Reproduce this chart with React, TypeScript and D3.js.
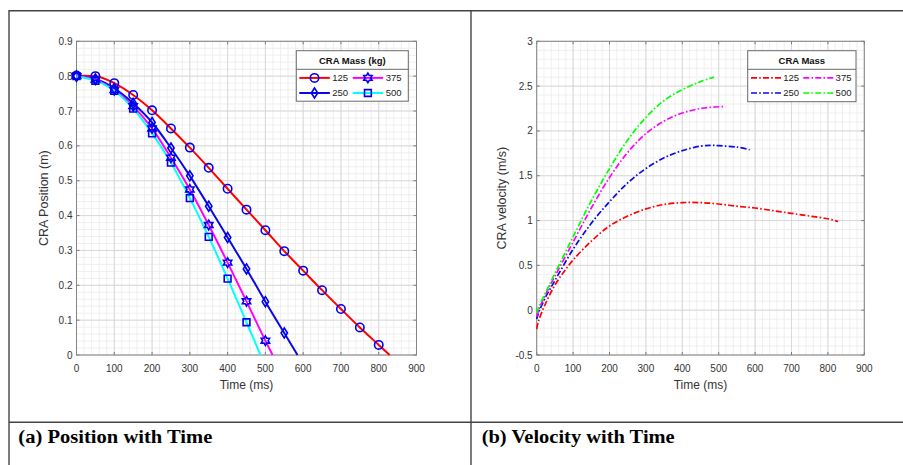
import React from "react";
import * as d3 from "d3";

// ---------- data ----------
const massLabels = ["125", "250", "375", "500"];

const posT125 = [0, 50, 100, 150, 200, 250, 300, 350, 400, 450, 500, 550, 600, 650, 700, 750, 800, 829];
const posY125 = [0.802, 0.8, 0.78, 0.746, 0.702, 0.65, 0.595, 0.537, 0.477, 0.417, 0.358, 0.298, 0.242, 0.186, 0.132, 0.079, 0.029, 0];
const posT250 = [0, 50, 100, 150, 200, 250, 300, 350, 400, 450, 500, 550, 585];
const posY250 = [0.8, 0.792, 0.765, 0.722, 0.667, 0.594, 0.514, 0.427, 0.337, 0.247, 0.153, 0.063, 0];
const posT375 = [0, 50, 100, 150, 200, 250, 300, 350, 400, 450, 500, 519];
const posY375 = [0.8, 0.79, 0.76, 0.714, 0.65, 0.566, 0.475, 0.373, 0.265, 0.154, 0.041, 0];
const posT500 = [0, 50, 100, 150, 200, 250, 300, 350, 400, 450, 487];
const posY500 = [0.8, 0.787, 0.758, 0.707, 0.636, 0.552, 0.45, 0.339, 0.219, 0.094, 0];

const velT125 = [0, 5, 25, 50, 75, 100, 150, 200, 250, 300, 350, 400, 450, 500, 550, 600, 650, 700, 750, 800, 828];
const velV125 = [-0.21, -0.12, 0.08, 0.28, 0.43, 0.56, 0.77, 0.94, 1.05, 1.13, 1.18, 1.2, 1.2, 1.185, 1.16, 1.14, 1.11, 1.08, 1.05, 1.02, 0.99];
const velT250 = [0, 5, 25, 50, 100, 150, 200, 250, 300, 350, 400, 450, 480, 500, 550, 585];
const velV250 = [-0.1, -0.03, 0.15, 0.33, 0.68, 0.97, 1.21, 1.42, 1.58, 1.7, 1.78, 1.83, 1.84, 1.835, 1.82, 1.79];
const velT375 = [0, 5, 25, 50, 100, 150, 200, 250, 300, 350, 400, 450, 500, 519];
const velV375 = [-0.07, 0.0, 0.18, 0.38, 0.76, 1.14, 1.48, 1.76, 1.97, 2.11, 2.2, 2.25, 2.27, 2.27];
const velT500 = [0, 5, 25, 50, 100, 150, 200, 250, 300, 350, 400, 450, 487];
const velV500 = [-0.03, 0.03, 0.2, 0.41, 0.82, 1.22, 1.58, 1.9, 2.15, 2.34, 2.46, 2.55, 2.6];

const xTicks = [0, 100, 200, 300, 400, 500, 600, 700, 800, 900];
const posYTicks = [0, 0.1, 0.2, 0.3, 0.4, 0.5, 0.6, 0.7, 0.8, 0.9];
const velYTicks = [-0.5, 0, 0.5, 1, 1.5, 2, 2.5, 3];

const posColors = ["#ff0000", "#0a0ae6", "#ff00ff", "#00ffff"];
const velColors = ["#ff0000", "#0a0ae6", "#ff00ff", "#00ff00"];
const markerTypes = ["circle", "diamond", "hexagram", "square"];

const MARKER = "#0000ee";
const FONT = "'Liberation Sans', Arial, Helvetica, sans-serif";

function markerPath(type: string): string {
  if (type === "circle") {
    const r = 4.2;
    return `M${-r},0A${r},${r} 0 1,0 ${r},0A${r},${r} 0 1,0 ${-r},0Z`;
  }
  if (type === "diamond") {
    return `M0,-5L3.2,0L0,5L-3.2,0Z`;
  }
  if (type === "square") {
    const h = 3.4;
    return `M${-h},${-h}H${h}V${h}H${-h}Z`;
  }
  const R = 4.8, r = R / Math.sqrt(3);
  const pts: string[] = [];
  for (let i = 0; i < 12; i++) {
    const a = (-90 + i * 30) * Math.PI / 180;
    const rr = i % 2 === 0 ? R : r;
    pts.push(`${(rr * Math.cos(a)).toFixed(2)},${(rr * Math.sin(a)).toFixed(2)}`);
  }
  return "M" + pts.join("L") + "Z";
}

function Axes({ x, y, xTickVals, yTickVals, xMinorStep, yMinorStep, yFmt, yLabel }: any) {
  const [x0, x1] = x.range();
  const [y0, y1] = y.range();
  const [dx0, dx1] = x.domain();
  const [dy0, dy1] = y.domain();
  const minorX = d3.range(dx0, dx1 + 1e-9, xMinorStep);
  const minorY = d3.range(dy0, dy1 + 1e-9, yMinorStep);
  return (
    <g>
      <rect x={x0} y={y1} width={x1 - x0} height={y0 - y1} fill="#ffffff" />
      {minorX.map((v: number, i: number) => (
        <line key={"mx" + i} x1={x(v)} x2={x(v)} y1={y1} y2={y0} stroke="#ebebeb" strokeWidth={0.8} />
      ))}
      {minorY.map((v: number, i: number) => (
        <line key={"my" + i} x1={x0} x2={x1} y1={y(v)} y2={y(v)} stroke="#ebebeb" strokeWidth={0.8} />
      ))}
      {xTickVals.map((v: number, i: number) => (
        <line key={"gx" + i} x1={x(v)} x2={x(v)} y1={y1} y2={y0} stroke="#d6d6d6" strokeWidth={0.9} />
      ))}
      {yTickVals.map((v: number, i: number) => (
        <line key={"gy" + i} x1={x0} x2={x1} y1={y(v)} y2={y(v)} stroke="#d6d6d6" strokeWidth={0.9} />
      ))}
      {xTickVals.map((v: number, i: number) => (
        <g key={"tx" + i}>
          <line x1={x(v)} x2={x(v)} y1={y0} y2={y0 - 3} stroke="#7a7a7a" />
          <line x1={x(v)} x2={x(v)} y1={y1} y2={y1 + 3} stroke="#7a7a7a" />
          <text x={x(v)} y={y0 + 17} textAnchor="middle" fontSize={10} fill="#333" fontFamily={FONT}>{v}</text>
        </g>
      ))}
      {yTickVals.map((v: number, i: number) => (
        <g key={"ty" + i}>
          <line x1={x0} x2={x0 + 3} y1={y(v)} y2={y(v)} stroke="#7a7a7a" />
          <line x1={x1} x2={x1 - 3} y1={y(v)} y2={y(v)} stroke="#7a7a7a" />
          <text x={x0 - 4} y={y(v) + 3.5} textAnchor="end" fontSize={10} fill="#333" fontFamily={FONT}>{yFmt(v)}</text>
        </g>
      ))}
      <rect x={x0} y={y1} width={x1 - x0} height={y0 - y1} fill="none" stroke="#858585" strokeWidth={1} />
      <text x={(x0 + x1) / 2} y={y0 + 34} textAnchor="middle" fontSize={12} fill="#333" fontFamily={FONT}>Time (ms)</text>
      <text transform={`translate(${yLabel.x},${(y0 + y1) / 2}) rotate(-90)`} textAnchor="middle" fontSize={12.5} fill="#333" fontFamily={FONT}>{yLabel.text}</text>
    </g>
  );
}

export default function App() {
  const W = 903, H = 465;

  const xL = d3.scaleLinear().domain([0, 900]).range([76.5, 416.5]);
  const yL = d3.scaleLinear().domain([0, 0.9]).range([355, 41.3]);
  const xR = d3.scaleLinear().domain([0, 900]).range([536.7, 864.3]);
  const yR = d3.scaleLinear().domain([-0.5, 3]).range([355, 41.3]);

  const posSeries = [
    { t: posT125, v: posY125 },
    { t: posT250, v: posY250 },
    { t: posT375, v: posY375 },
    { t: posT500, v: posY500 },
  ];
  const velSeries = [
    { t: velT125, v: velV125 },
    { t: velT250, v: velV250 },
    { t: velT375, v: velV375 },
    { t: velT500, v: velV500 },
  ];

  const lineL = d3.line<[number, number]>().x(d => xL(d[0])).y(d => yL(d[1])).curve(d3.curveMonotoneX);
  const lineR = d3.line<[number, number]>().x(d => xR(d[0])).y(d => yR(d[1])).curve(d3.curveCatmullRom.alpha(0.5));

  const dash = "6,2.2,1.6,2.2";

  const legL = { x: 296.3, y: 50.7, w: 112, h: 50.5, div: 69.3 };
  const legR = { x: 747.7, y: 50.7, w: 108.3, h: 51, div: 69.3 };
  const rowsY = [77.9, 93];

  return (
    <svg width={W} height={H} style={{ position: "absolute", left: 0, top: 0, background: "#fff" }}>
      <rect x={0} y={0} width={W} height={H} fill="#fff" />
      <line x1={9} x2={903} y1={10.7} y2={10.7} stroke="#444" strokeWidth={1.4} />
      <line x1={9} x2={9} y1={10} y2={465} stroke="#444" strokeWidth={1.4} />
      <line x1={471} x2={471} y1={10} y2={465} stroke="#444" strokeWidth={1.4} />
      <line x1={9} x2={903} y1={422.3} y2={422.3} stroke="#444" strokeWidth={1.4} />
      <text x={18.3} y={442.7} fontFamily="'Liberation Serif', 'Times New Roman', serif" fontWeight="bold" fontSize={18.5} textLength={194} lengthAdjust="spacingAndGlyphs" fill="#000">(a) Position with Time</text>
      <text x={481.7} y={442.7} fontFamily="'Liberation Serif', 'Times New Roman', serif" fontWeight="bold" fontSize={18.5} textLength={193} lengthAdjust="spacingAndGlyphs" fill="#000">(b) Velocity with Time</text>

      <Axes x={xL} y={yL} xTickVals={xTicks} yTickVals={posYTicks} xMinorStep={20} yMinorStep={0.02}
        yFmt={(v: number) => (v === 0 ? "0" : d3.format(".1f")(v))} yLabel={{ x: 48, text: "CRA Position (m)" }} />
      <g>
        {posSeries.map((s, i) => (
          <path key={"pl" + i} d={lineL(s.t.map((t, j) => [t, s.v[j]] as [number, number])) || ""} fill="none" stroke={posColors[i]} strokeWidth={2} />
        ))}
        {posSeries.map((s, i) =>
          s.t.map((t, j) =>
            t % 50 === 0 ? (
              <path key={"pm" + i + "-" + j} transform={`translate(${xL(t)},${yL(s.v[j])})`} d={markerPath(markerTypes[i])} fill="none" stroke={MARKER} strokeWidth={1.6} />
            ) : null
          )
        )}
      </g>
      <g>
        <rect x={legL.x} y={legL.y} width={legL.w} height={legL.h} fill="#fff" stroke="#6a6a6a" strokeWidth={1} />
        <line x1={legL.x} x2={legL.x + legL.w} y1={legL.div} y2={legL.div} stroke="#6a6a6a" strokeWidth={1} />
        <text x={legL.x + legL.w / 2} y={63.6} textAnchor="middle" fontFamily={FONT} fontWeight="bold" fontSize={9.5} fill="#111">CRA Mass (kg)</text>
        {massLabels.map((lab, i) => {
          const col = i === 0 || i === 1 ? 0 : 1;
          const row = i === 0 || i === 2 ? 0 : 1;
          const lx = col === 0 ? 299.3 : 352.7;
          const ly = rowsY[row];
          return (
            <g key={"ll" + i}>
              <line x1={lx} x2={lx + 30.5} y1={ly} y2={ly} stroke={posColors[i]} strokeWidth={2} />
              <path transform={`translate(${lx + 15.2},${ly})`} d={markerPath(markerTypes[i])} fill="none" stroke={MARKER} strokeWidth={1.6} />
              <text x={lx + 33} y={ly + 3.4} fontFamily={FONT} fontSize={9.5} fill="#222">{lab}</text>
            </g>
          );
        })}
      </g>

      <Axes x={xR} y={yR} xTickVals={xTicks} yTickVals={velYTicks} xMinorStep={20} yMinorStep={0.1}
        yFmt={(v: number) => String(v)} yLabel={{ x: 506, text: "CRA velocity (m/s)" }} />
      <g>
        {velSeries.map((s, i) => (
          <path key={"vl" + i} d={lineR(s.t.map((t, j) => [t, s.v[j]] as [number, number])) || ""} fill="none" stroke={velColors[i]} strokeWidth={1.7} strokeDasharray={dash} />
        ))}
      </g>
      <g>
        <rect x={legR.x} y={legR.y} width={legR.w} height={legR.h} fill="#fff" stroke="#6a6a6a" strokeWidth={1} />
        <line x1={legR.x} x2={legR.x + legR.w} y1={legR.div} y2={legR.div} stroke="#6a6a6a" strokeWidth={1} />
        <text x={legR.x + legR.w / 2} y={63.6} textAnchor="middle" fontFamily={FONT} fontWeight="bold" fontSize={9.5} fill="#111">CRA Mass</text>
        {massLabels.map((lab, i) => {
          const col = i === 0 || i === 1 ? 0 : 1;
          const row = i === 0 || i === 2 ? 0 : 1;
          const lx = col === 0 ? 751 : 803.3;
          const ly = rowsY[row];
          return (
            <g key={"rl" + i}>
              <line x1={lx} x2={lx + 30} y1={ly} y2={ly} stroke={velColors[i]} strokeWidth={1.7} strokeDasharray={dash} />
              <text x={lx + 32.3} y={ly + 3.4} fontFamily={FONT} fontSize={9.5} fill="#222">{lab}</text>
            </g>
          );
        })}
      </g>
    </svg>
  );
}
